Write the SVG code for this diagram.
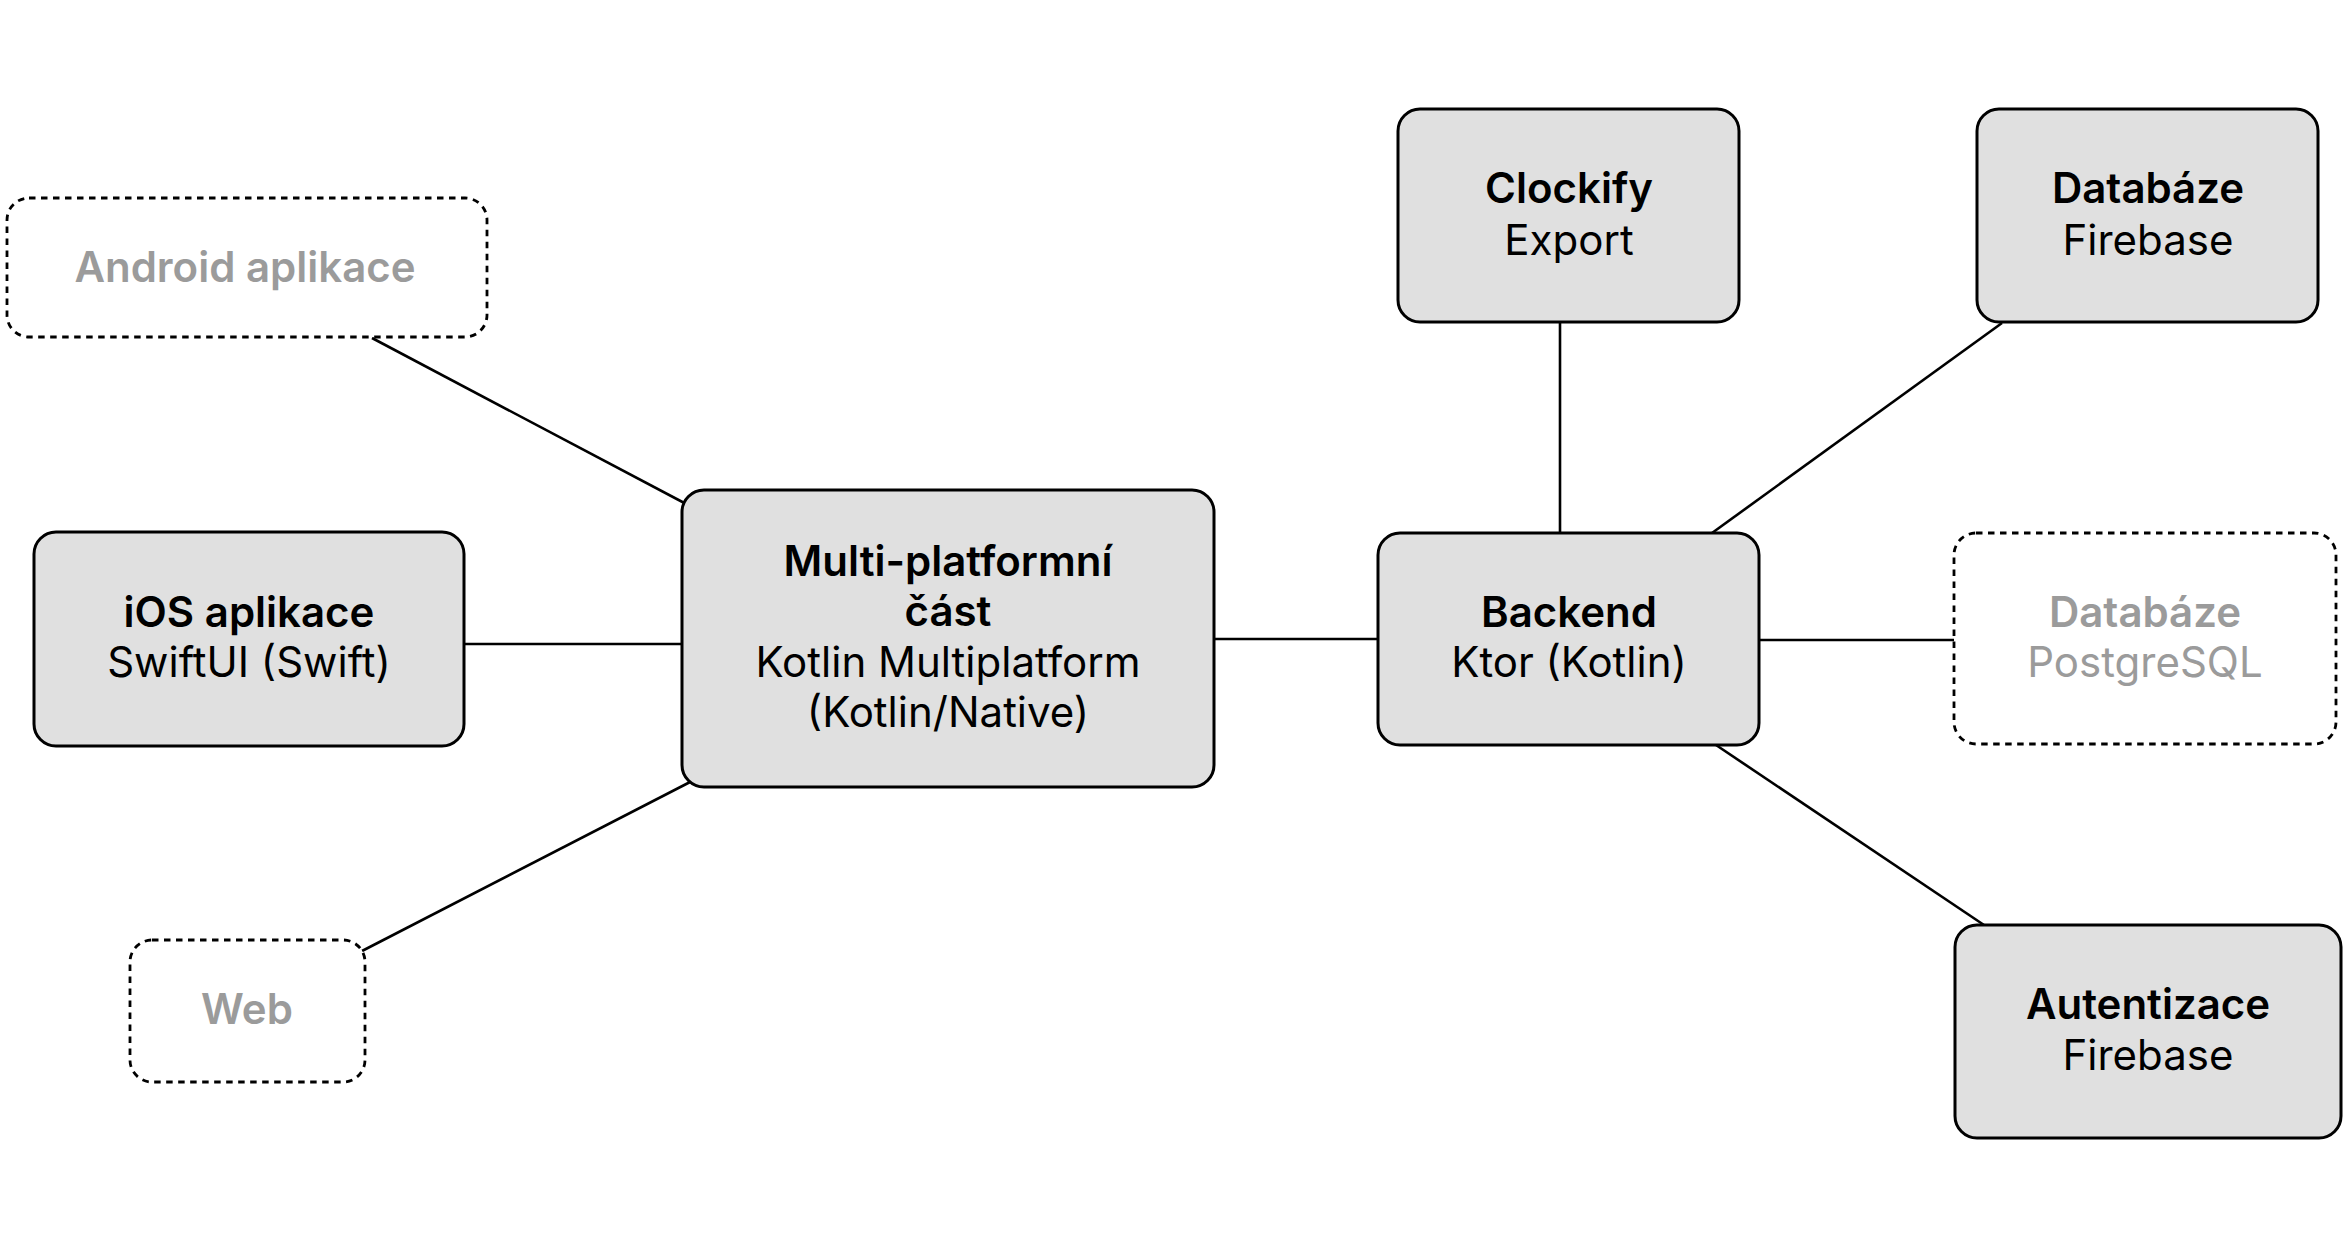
<svg xmlns="http://www.w3.org/2000/svg" width="2346" height="1248" viewBox="0 0 2346 1248">
<style>
.box{fill:#e0e0e0;stroke:#000;stroke-width:3}
.dash{fill:#fff;stroke:#000;stroke-width:2.8;stroke-dasharray:6.5 5.5}
.con{stroke:#000;stroke-width:2.6;fill:none}
text{font-family:Inter,"Noto Sans","Liberation Sans",sans-serif;font-size:42px;text-anchor:middle}
.t{font-weight:600;fill:#000}
.s{font-weight:400;fill:#000}
.gt{font-weight:600;fill:#9b9b9b}
.gs{font-weight:400;fill:#9b9b9b}
</style>
<rect width="2346" height="1248" fill="#fff"/>
<g id="connectors">
<line class="con" x1="372" y1="338" x2="690" y2="506"/>
<line class="con" x1="464" y1="644" x2="682" y2="644"/>
<line class="con" x1="362" y1="951" x2="694" y2="780"/>
<line class="con" x1="1214" y1="639" x2="1378" y2="639"/>
<line class="con" x1="1560" y1="322" x2="1560" y2="533"/>
<line class="con" x1="2002" y1="323" x2="1712" y2="533"/>
<line class="con" x1="1759" y1="640" x2="1954" y2="640"/>
<line class="con" x1="1716" y1="745" x2="1984" y2="925"/>
</g>
<g id="android">
<rect class="dash" x="7" y="198" width="480" height="139" rx="22"/>
<text class="gt" x="245" y="282">Android aplikace</text>
</g>
<g id="ios">
<rect class="box" x="34" y="532" width="430" height="214" rx="22"/>
<text class="t" x="249" y="627">iOS aplikace</text>
<text class="s" x="249" y="677">SwiftUI (Swift)</text>
</g>
<g id="web">
<rect class="dash" x="130" y="940" width="235" height="142" rx="22"/>
<text class="gt" x="247" y="1024">Web</text>
</g>
<g id="multiplatform">
<rect class="box" x="682" y="490" width="532" height="297" rx="22"/>
<text class="t" x="948" y="576">Multi-platformní</text>
<text class="t" x="948" y="626">část</text>
<text class="s" x="948" y="677">Kotlin Multiplatform</text>
<text class="s" x="948" y="727">(Kotlin/Native)</text>
</g>
<g id="backend">
<rect class="box" x="1378" y="533" width="381" height="212" rx="22"/>
<text class="t" x="1569" y="627">Backend</text>
<text class="s" x="1569" y="677">Ktor (Kotlin)</text>
</g>
<g id="clockify">
<rect class="box" x="1398" y="109" width="341" height="213" rx="22"/>
<text class="t" x="1569" y="203">Clockify</text>
<text class="s" x="1569" y="255">Export</text>
</g>
<g id="db-firebase">
<rect class="box" x="1977" y="109" width="341" height="213" rx="22"/>
<text class="t" x="2148" y="203">Databáze</text>
<text class="s" x="2148" y="255">Firebase</text>
</g>
<g id="db-postgres">
<rect class="dash" x="1954" y="533" width="382" height="211" rx="22"/>
<text class="gt" x="2145" y="627">Databáze</text>
<text class="gs" x="2145" y="677">PostgreSQL</text>
</g>
<g id="auth">
<rect class="box" x="1955" y="925" width="386" height="213" rx="22"/>
<text class="t" x="2148" y="1019">Autentizace</text>
<text class="s" x="2148" y="1070">Firebase</text>
</g>
</svg>
